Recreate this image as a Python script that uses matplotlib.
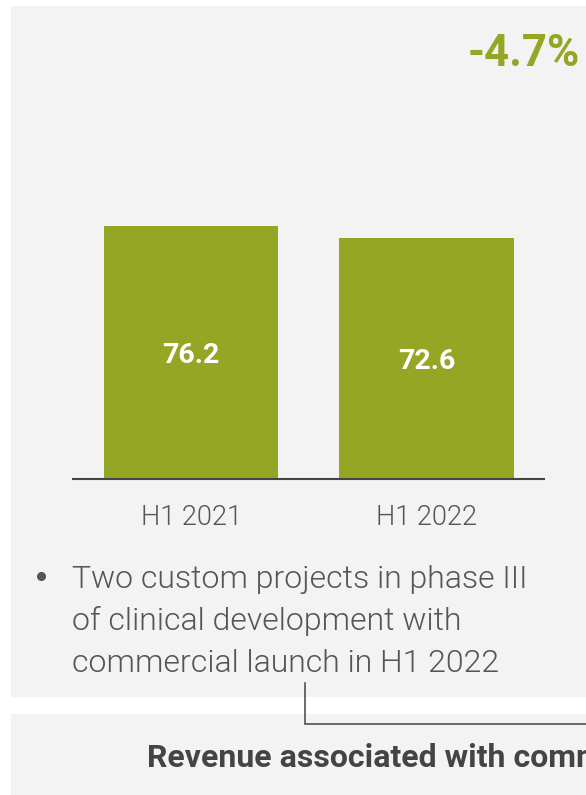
import matplotlib.pyplot as plt
from matplotlib.patches import Rectangle

periods = ["H1 2021", "H1 2022"]
revenue = [76.2, 72.6]
change_label = "-4.7%"
bullet_lines = [
    "Two custom projects in phase III",
    "of clinical development with",
    "commercial launch in H1 2022",
]
footer_text = "Revenue associated with commercial launch of custom projects"

GREEN = "#95a625"
PANEL = "#f3f3f3"
DARK = "#444444"
TEXT = "#555555"

W, H = 586, 795
plt.rcParams["font.family"] = ["Roboto", "DejaVu Sans"]

fig = plt.figure(figsize=(W / 100, H / 100), dpi=100)
fig.patch.set_facecolor("white")

# background layer in pixel coordinates (origin top-left)
bg = fig.add_axes([0, 0, 1, 1])
bg.set_xlim(0, W)
bg.set_ylim(H, 0)
bg.axis("off")

bg.add_patch(Rectangle((11, 6), W, 690.7, color=PANEL, lw=0))
bg.add_patch(Rectangle((11, 714), W, 90, color=PANEL, lw=0))

bg.text(580, 54, change_label, color=GREEN, fontsize=31.5, fontweight="bold",
        ha="right", va="center")

# bullet list
bg.plot(41, 575.7, "o", color=TEXT, ms=5.5)
for i, line in enumerate(bullet_lines):
    bg.text(72, 587.5 + i * 42, line, color=TEXT, fontsize=23,
            fontweight=300, ha="left", va="baseline")

# connector from the bullet to the footer box
bg.plot([304.5, 304.5, W + 5], [683, 724, 724], color=DARK, lw=1.1,
        solid_joinstyle="miter")

bg.text(147, 767, footer_text, color=DARK, fontsize=23, fontweight="bold",
        ha="left", va="baseline")

# bar chart
base_px = 478.7
ax = fig.add_axes([73.3 / W, (H - base_px) / H, 471 / W, 378.7 / H])
ax.patch.set_alpha(0)
x = range(len(periods))
ax.bar(x, revenue, width=0.742, color=GREEN)
ax.set_xlim(-0.5, 1.5)
ax.set_ylim(0, 378.7 / 3.312)

for xi, v in zip(x, revenue):
    ax.text(xi, v / 2 - 1, f"{v:.1f}", color="white", fontsize=20.5,
            fontweight="bold", ha="center", va="center")

for s in ["top", "left", "right"]:
    ax.spines[s].set_visible(False)
ax.spines["bottom"].set_color(DARK)
ax.spines["bottom"].set_linewidth(1.5)
ax.set_yticks([])
ax.set_xticks(list(x))
ax.set_xticklabels(periods, fontsize=19.5, fontweight=300, color=TEXT)
ax.tick_params(axis="x", length=0, pad=18)

fig.savefig("out.png", dpi=100)
